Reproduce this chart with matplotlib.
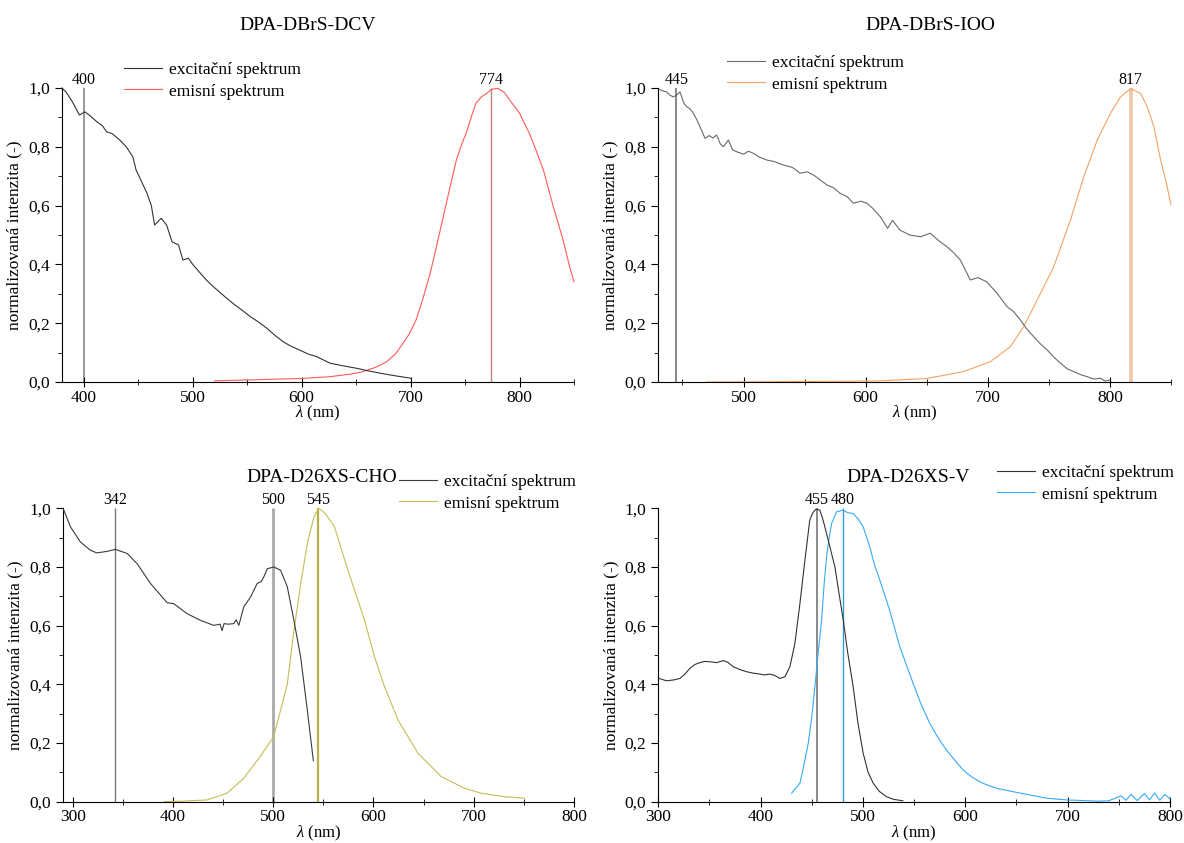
import matplotlib
matplotlib.use("Agg")
import matplotlib.pyplot as plt
from matplotlib.ticker import MultipleLocator, FuncFormatter

plt.rcParams['font.family'] = ['Liberation Serif', 'DejaVu Serif']
plt.rcParams['mathtext.fontset'] = 'custom'
plt.rcParams['mathtext.rm'] = 'Liberation Serif'
plt.rcParams['mathtext.it'] = 'Liberation Serif:italic'

# ---- DPA-DBrS-DCV ----
x1_ex = [380, 384, 390, 396, 401, 406, 412, 417, 421, 426,
         433, 439, 445, 448, 452, 458, 462, 465, 468, 471,
         476, 481, 487, 491, 496, 500, 507, 513, 519, 528,
         537, 545, 553, 560, 568, 575, 583, 590, 598, 606,
         614, 620, 626, 638, 650, 661, 672, 686, 700]
y1_ex = [1.00, 0.985, 0.95, 0.908, 0.919, 0.905, 0.885, 0.872, 0.851, 0.845,
         0.823, 0.80, 0.766, 0.721, 0.69, 0.642, 0.60, 0.534, 0.545, 0.557,
         0.534, 0.477, 0.466, 0.415, 0.421, 0.40, 0.370, 0.345, 0.324, 0.295,
         0.267, 0.245, 0.222, 0.205, 0.183, 0.16, 0.137, 0.122, 0.109, 0.095,
         0.086, 0.075, 0.064, 0.055, 0.047, 0.038, 0.030, 0.021, 0.013]
x1_em = [520, 560, 600, 626, 645, 656, 668, 678, 686, 693,
         699, 705, 711, 718, 724, 730, 736, 742, 747, 751,
         756, 760, 765, 770, 774, 780, 786, 791, 800, 809,
         815, 822, 831, 840, 846, 850]
y1_em = [0.004, 0.008, 0.012, 0.018, 0.027, 0.035, 0.05, 0.069, 0.095, 0.131,
         0.165, 0.211, 0.28, 0.37, 0.465, 0.562, 0.66, 0.755, 0.81, 0.846,
         0.905, 0.948, 0.97, 0.982, 0.995, 0.999, 0.985, 0.959, 0.914, 0.846,
         0.79, 0.72, 0.596, 0.483, 0.392, 0.341]
peaks1 = [400, 774]

# ---- DPA-DBrS-IOO ----
x2_ex = [431, 434, 437, 440, 442.5, 445, 448, 451, 453.5, 456,
         459, 462, 464.4, 468.5, 472, 475, 478, 481, 483.5, 487.6,
         491, 494.5, 500, 504, 508, 513, 519, 525, 532.7, 540,
         546.4, 552, 557.3, 562, 568.3, 574, 579, 585, 590, 596,
         601, 606, 612, 618, 622, 628, 636, 644.8, 653, 660,
         666.6, 672, 677.5, 685.7, 692, 699, 707.6, 715.8, 721, 726.7,
         732, 737.6, 743, 748.6, 754, 759.5, 765, 770.4, 776, 781.4,
         787, 792.3, 796, 800]
y2_ex = [0.995, 0.99, 0.987, 0.975, 0.970, 0.975, 0.987, 0.95, 0.936, 0.93,
         0.914, 0.89, 0.868, 0.829, 0.838, 0.83, 0.840, 0.81, 0.800, 0.823,
         0.79, 0.783, 0.775, 0.785, 0.778, 0.765, 0.755, 0.75, 0.738, 0.73,
         0.710, 0.715, 0.704, 0.69, 0.670, 0.66, 0.642, 0.63, 0.608, 0.615,
         0.608, 0.59, 0.562, 0.523, 0.55, 0.517, 0.50, 0.494, 0.506, 0.48,
         0.460, 0.44, 0.415, 0.347, 0.355, 0.341, 0.302, 0.256, 0.24, 0.211,
         0.18, 0.154, 0.13, 0.109, 0.085, 0.064, 0.045, 0.035, 0.025, 0.018,
         0.01, 0.013, 0.003, 0.007]
x2_em = [470, 520, 570, 612, 650, 680, 702, 718.5, 729.4, 740.4,
         754, 767.7, 778.6, 789.6, 800.5, 808.7, 813, 817, 821, 825,
         830.6, 836, 841.5, 846, 850]
y2_em = [0.0, 0.001, 0.002, 0.004, 0.012, 0.035, 0.069, 0.12, 0.188, 0.279,
         0.392, 0.551, 0.698, 0.823, 0.914, 0.970, 0.985, 0.997, 0.99, 0.982,
         0.936, 0.868, 0.755, 0.68, 0.602]
peaks2 = [445, 817]

# ---- DPA-D26XS-CHO ----
x3_ex = [290.4, 297.7, 307.7, 317.7, 324, 334, 342.6, 354.3, 364.3, 377.5,
         394.2, 400.8, 414, 427.5, 440.7, 447, 449, 451, 455, 460.7,
         463, 465.7, 470.6, 477.3, 484, 488, 490.6, 494, 500.6, 507.3,
         514, 520.5, 527.3, 534, 540]
y3_ex = [1.0, 0.937, 0.885, 0.857, 0.848, 0.853, 0.860, 0.846, 0.811, 0.744,
         0.678, 0.675, 0.641, 0.618, 0.601, 0.605, 0.583, 0.607, 0.605, 0.607,
         0.62, 0.601, 0.664, 0.697, 0.744, 0.75, 0.766, 0.794, 0.800, 0.789,
         0.733, 0.62, 0.494, 0.312, 0.140]
x3_em = [391.5, 410, 434, 454, 470.6, 487, 500.5, 514, 520.5, 527.3,
         534, 540.5, 545.5, 552, 561, 574.5, 591, 601, 611, 624.5,
         644.4, 667.4, 690.6, 707.4, 730.7, 750.7]
y3_em = [0.0, 0.002, 0.006, 0.029, 0.080, 0.154, 0.222, 0.40, 0.58, 0.74,
         0.88, 0.97, 1.0, 0.982, 0.937, 0.789, 0.619, 0.494, 0.392, 0.278,
         0.165, 0.086, 0.046, 0.029, 0.017, 0.012]
peaks3 = [342, 500, 545]

# ---- DPA-D26XS-V ----
x4_ex = [300, 308, 315, 321, 326, 331, 336, 340.7, 345, 350.5,
         357, 363.5, 368, 373.2, 380, 386.3, 393, 399.3, 404, 409,
         414, 418.8, 423.7, 428.6, 433.5, 438.4, 443.3, 448, 451, 454,
         457.8, 461, 466, 472.5, 480.7, 485, 490.4, 495, 500.2, 505,
         510, 516, 523, 530, 539]
y4_ex = [0.421, 0.412, 0.415, 0.420, 0.435, 0.455, 0.468, 0.474, 0.478, 0.477,
         0.474, 0.481, 0.475, 0.460, 0.45, 0.443, 0.438, 0.435, 0.432, 0.435,
         0.43, 0.420, 0.426, 0.460, 0.540, 0.676, 0.824, 0.96, 0.985, 0.997,
         0.994, 0.96, 0.892, 0.801, 0.619, 0.51, 0.392, 0.27, 0.165, 0.10,
         0.063, 0.035, 0.017, 0.008, 0.003]
x4_em = [430.3, 434, 438.4, 442, 446.5, 450, 453, 456, 459.6, 462,
         464.4, 467, 469.3, 474.2, 480.7, 485, 490.4, 495, 500.2, 506.7,
         511, 516.5, 526.3, 536, 549, 557, 565.3, 573, 581.6, 590,
         597.9, 606, 614, 622, 630.5, 646.7, 663, 679.3, 698.8, 715,
         728, 740, 752, 757, 762, 768, 775, 780, 785, 790,
         795, 800]
y4_em = [0.029, 0.045, 0.063, 0.12, 0.199, 0.29, 0.392, 0.50, 0.619, 0.74,
         0.834, 0.9, 0.948, 0.988, 0.994, 0.985, 0.982, 0.965, 0.937, 0.868,
         0.81, 0.755, 0.65, 0.528, 0.403, 0.33, 0.267, 0.22, 0.176, 0.14,
         0.108, 0.085, 0.068, 0.056, 0.046, 0.034, 0.023, 0.012, 0.006, 0.004,
         0.002, 0.003, 0.02, 0.005, 0.025, 0.004, 0.028, 0.006, 0.03, 0.005,
         0.025, 0.01]
peaks4 = [455, 480]

W, H = 1184, 843
fig = plt.figure(figsize=(W / 100, H / 100), dpi=100)

def px_rect(left, top, right, bottom):
    return [left / W, 1 - bottom / H, (right - left) / W, (bottom - top) / H]

def comma(v, pos):
    return f"{v:.1f}".replace('.', ',')

panels = [
    dict(rect=px_rect(62, 88, 574, 382), title="DPA-DBrS-DCV", tpos=(308, 25),
         xlim=(380, 850), ex=(x1_ex, y1_ex), em=(x1_em, y1_em),
         ex_c="#333333", em_c="#ff5a5a", peaks=peaks1,
         pk_style=[("#999999", 1.4), ("#c88080", 1.0)],
         leg=(124, 62)),
    dict(rect=px_rect(658, 88, 1171, 382), title="DPA-DBrS-IOO", tpos=(930, 25),
         xlim=(430, 850), ex=(x2_ex, y2_ex), em=(x2_em, y2_em),
         ex_c="#6a6a6a", em_c="#f5a263", peaks=peaks2,
         pk_style=[("#888888", 1.4), ("#f0c8a6", 2.6)],
         leg=(727, 55)),
    dict(rect=px_rect(62.7, 508.3, 574, 801.7), title="DPA-D26XS-CHO", tpos=(322, 478),
         xlim=(290, 800), ex=(x3_ex, y3_ex), em=(x3_em, y3_em),
         ex_c="#3a3a3a", em_c="#c4bd55", peaks=peaks3,
         pk_style=[("#777777", 1.0), ("#aaaaaa", 2.0), ("#b8b040", 1.6)],
         leg=(399, 474)),
    dict(rect=px_rect(658.3, 508.3, 1170, 801.7), title="DPA-D26XS-V", tpos=(908, 478),
         xlim=(300, 800), ex=(x4_ex, y4_ex), em=(x4_em, y4_em),
         ex_c="#333333", em_c="#35aaf5", peaks=peaks4,
         pk_style=[("#777777", 1.2), ("#3a9ad8", 1.0)],
         leg=(997, 465)),
]

for p in panels:
    ax = fig.add_axes(p["rect"])
    ax.vlines(p["peaks"], 0, 1.0, colors=[s[0] for s in p["pk_style"]],
              linewidths=[s[1] for s in p["pk_style"]], zorder=1)
    for pk in p["peaks"]:
        ax.annotate(str(pk), (pk, 1.0), xytext=(0, 0), textcoords="offset points",
                    ha="center", va="bottom", fontsize=11.5, annotation_clip=False)
    ax.plot(*p["ex"], color=p["ex_c"], lw=0.8, label="excitační spektrum",
            clip_on=False, zorder=3)
    ax.plot(*p["em"], color=p["em_c"], lw=0.8, label="emisní spektrum",
            clip_on=False, zorder=2)
    ax.set_xlim(*p["xlim"])
    ax.set_ylim(0, 1.0)
    ax.spines["top"].set_visible(False)
    ax.spines["right"].set_visible(False)
    ax.xaxis.set_major_locator(MultipleLocator(100))
    ax.xaxis.set_minor_locator(MultipleLocator(50))
    ax.yaxis.set_major_locator(MultipleLocator(0.2))
    ax.yaxis.set_minor_locator(MultipleLocator(0.1))
    ax.yaxis.set_major_formatter(FuncFormatter(comma))
    ax.tick_params(axis="x", which="major", direction="inout", length=7, labelsize=12.5, pad=2)
    ax.tick_params(axis="x", which="minor", direction="inout", length=4)
    ax.tick_params(axis="y", which="major", direction="out", length=5, labelsize=12.5)
    ax.tick_params(axis="y", which="minor", direction="out", length=3)
    ax.set_xlabel(r"$\lambda$ (nm)", fontsize=12, labelpad=-1)
    ax.set_ylabel("normalizovaná intenzita (-)", fontsize=12.5, labelpad=4)
    fig.text(p["tpos"][0] / W, 1 - p["tpos"][1] / H, p["title"],
             ha="center", va="center", fontsize=14)
    lx, ly = p["leg"]
    ax.legend(loc="upper left", bbox_to_anchor=(lx / W, 1 - ly / H),
              bbox_transform=fig.transFigure, frameon=False, fontsize=12.5,
              handlelength=2.2, handletextpad=0.4, borderpad=0, borderaxespad=0,
              labelspacing=0.3)

fig.savefig("out.png", dpi=100)
